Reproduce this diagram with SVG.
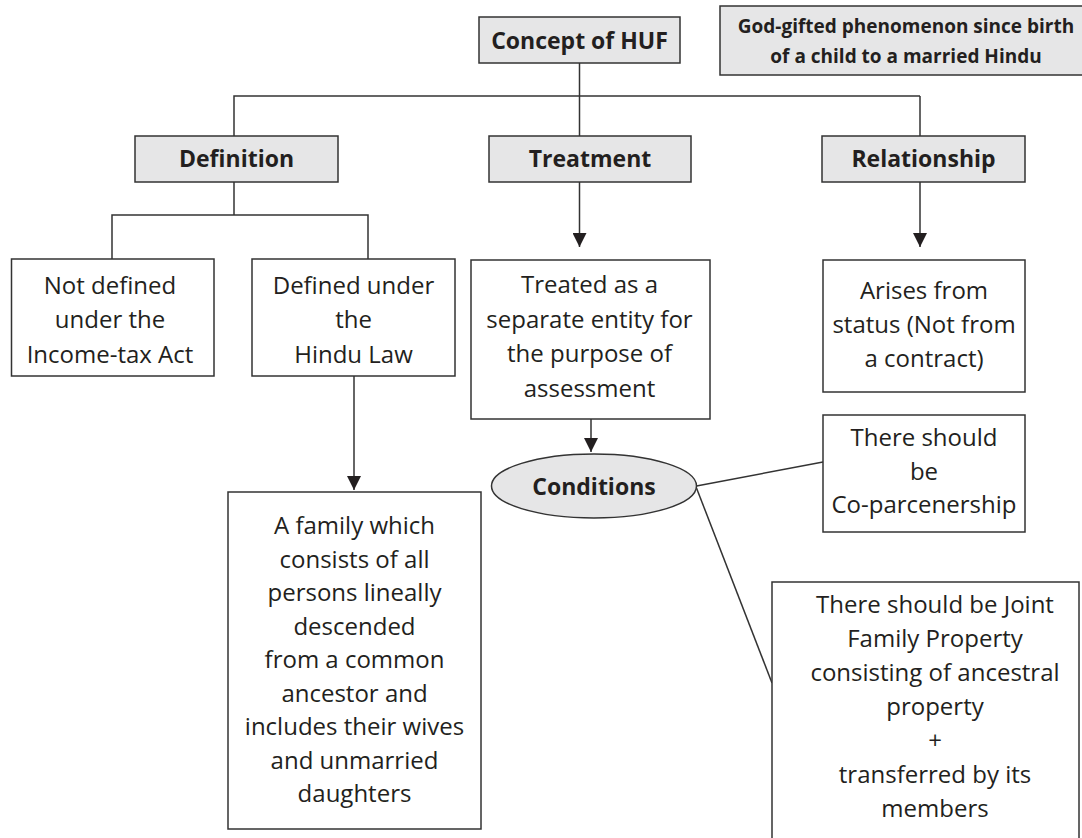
<svg xmlns="http://www.w3.org/2000/svg" width="1082" height="838" viewBox="0 0 1082 838">
  <defs>
    <marker id="arrow" markerUnits="userSpaceOnUse" markerWidth="14" markerHeight="14" refX="14" refY="7" orient="auto">
      <path d="M0,0 L14,7 L0,14 Z" fill="#231f20"/>
    </marker>
    <style>
      .box { fill: #ffffff; stroke: #333333; stroke-width: 1.5; }
      .head { fill: #e6e6e7; stroke: #333333; stroke-width: 1.5; }
      .link { fill: none; stroke: #333333; stroke-width: 1.5; }
      .txt { font-family: "Open Sans", "Noto Sans", sans-serif; font-size: 24px; fill: #231f20; text-anchor: middle; }
      .lbl { font-family: "Open Sans", "Noto Sans", sans-serif; font-size: 23px; font-weight: bold; fill: #231f20; text-anchor: middle; }
      .note { font-family: "Open Sans", "Noto Sans", sans-serif; font-size: 19px; font-weight: bold; fill: #231f20; text-anchor: middle; }
    </style>
  </defs>
  <rect width="1082" height="838" fill="#ffffff"/>

  <!-- connectors -->
  <g id="connectors">
    <path class="link" d="M579.5,63 V136"/>
    <path class="link" d="M234,136 V96 H920"/>
    <path class="link" d="M234,182 V215"/>
    <path class="link" d="M112,259 V215 H368 V259"/>
    <path class="link" d="M579.5,182 V247" marker-end="url(#arrow)"/>
    <path class="link" d="M920,96 V247" marker-end="url(#arrow)"/>
    <path class="link" d="M591,419 V452" marker-end="url(#arrow)"/>
    <path class="link" d="M354,376 V490" marker-end="url(#arrow)"/>
    <path class="link" d="M696.5,486 L823,462"/>
    <path class="link" d="M696.5,488 L772,683"/>
  </g>

  <g id="concept">
    <rect class="head" x="479" y="17" width="201" height="46"/>
    <text class="lbl" x="579.5" y="49">Concept of HUF</text>
  </g>

  <g id="note-birth">
    <rect class="head" x="720" y="6" width="380" height="69"/>
    <text class="note" x="906" y="33">God-gifted phenomenon since birth</text>
    <text class="note" x="906" y="63">of a child to a married Hindu</text>
  </g>

  <g id="definition">
    <rect class="head" x="135" y="136" width="203" height="46"/>
    <text class="lbl" x="236.5" y="167">Definition</text>
  </g>

  <g id="treatment">
    <rect class="head" x="489" y="136" width="202" height="46"/>
    <text class="lbl" x="590" y="167">Treatment</text>
  </g>

  <g id="relationship">
    <rect class="head" x="822" y="136" width="203" height="46"/>
    <text class="lbl" x="923.5" y="167">Relationship</text>
  </g>

  <g id="not-defined">
    <rect class="box" x="11.5" y="259" width="202.5" height="117"/>
    <text class="txt" x="110" y="294">Not defined</text>
    <text class="txt" x="110" y="328">under the</text>
    <text class="txt" x="110" y="363">Income-tax Act</text>
  </g>

  <g id="hindu-law">
    <rect class="box" x="252" y="259" width="203" height="117"/>
    <text class="txt" x="353.5" y="294">Defined under</text>
    <text class="txt" x="353.5" y="328">the</text>
    <text class="txt" x="353.5" y="363">Hindu Law</text>
  </g>

  <g id="family">
    <rect class="box" x="228" y="492" width="253" height="337"/>
    <text class="txt" x="354.5" y="534">A family which</text>
    <text class="txt" x="354.5" y="567.5">consists of all</text>
    <text class="txt" x="354.5" y="601">persons lineally</text>
    <text class="txt" x="354.5" y="634.5">descended</text>
    <text class="txt" x="354.5" y="668">from a common</text>
    <text class="txt" x="354.5" y="701.5">ancestor and</text>
    <text class="txt" x="354.5" y="735">includes their wives</text>
    <text class="txt" x="354.5" y="768.5">and unmarried</text>
    <text class="txt" x="354.5" y="802">daughters</text>
  </g>

  <g id="separate-entity">
    <rect class="box" x="471" y="260" width="239" height="159"/>
    <text class="txt" x="589.5" y="293">Treated as a</text>
    <text class="txt" x="589.5" y="327.5">separate entity for</text>
    <text class="txt" x="589.5" y="362">the purpose of</text>
    <text class="txt" x="589.5" y="396.5">assessment</text>
  </g>

  <g id="status">
    <rect class="box" x="823" y="260" width="202" height="132"/>
    <text class="txt" x="924" y="299">Arises from</text>
    <text class="txt" x="924" y="333">status (Not from</text>
    <text class="txt" x="924" y="367">a contract)</text>
  </g>

  <g id="conditions">
    <ellipse class="head" cx="594" cy="486" rx="102.5" ry="32"/>
    <text class="lbl" x="594" y="495">Conditions</text>
  </g>

  <g id="coparcenership">
    <rect class="box" x="823" y="415" width="202" height="117"/>
    <text class="txt" x="924" y="446">There should</text>
    <text class="txt" x="924" y="480">be</text>
    <text class="txt" x="924" y="513">Co-parcenership</text>
  </g>

  <g id="joint-property">
    <rect class="box" x="772" y="582" width="307" height="270"/>
    <text class="txt" x="935" y="613">There should be Joint</text>
    <text class="txt" x="935" y="647">Family Property</text>
    <text class="txt" x="935" y="681">consisting of ancestral</text>
    <text class="txt" x="935" y="715">property</text>
    <text class="txt" x="935" y="749">+</text>
    <text class="txt" x="935" y="783">transferred by its</text>
    <text class="txt" x="935" y="817">members</text>
  </g>
</svg>
